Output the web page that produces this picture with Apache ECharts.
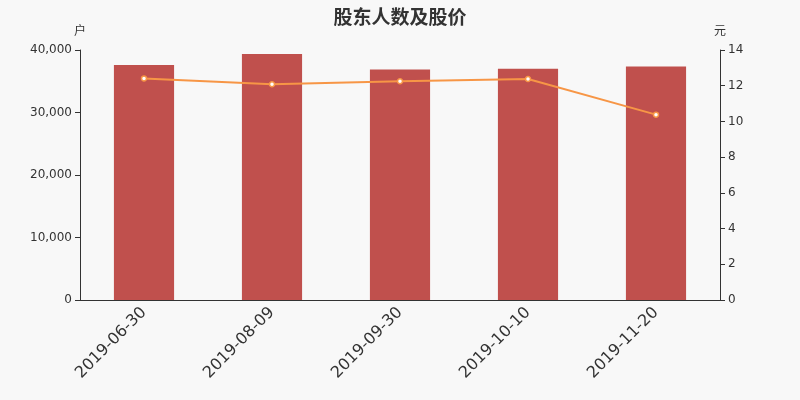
<!DOCTYPE html>
<html>
<head>
<meta charset="utf-8">
<script src="https://cdn.jsdelivr.net/npm/echarts@6/dist/echarts.min.js"></script>
<style>
    html, body { margin: 0; padding: 0; background: #f8f8f8; }
    #main { width: 800px; height: 400px; }
</style>
</head>
<body>
<div id="main"></div>
<script>
// 日期
var dates = ['2019-06-30', '2019-08-09', '2019-09-30', '2019-10-10', '2019-11-20'];
// 股东人数（户）
var holders = [37600, 39360, 36900, 37010, 37350];
// 股价（元）
var prices = [12.41, 12.08, 12.25, 12.38, 10.38];

var myChart = echarts.init(document.getElementById('main'));

var option = {
    backgroundColor: '#f8f8f8',
    textStyle: { fontFamily: 'DejaVu Sans' },
    title: {
        text: '股东人数及股价',
        left: 'center',
        top: 2,
        textStyle: {
            fontSize: 19,
            fontWeight: 'bold',
            color: '#333',
            fontFamily: 'Noto Sans CJK SC'
        }
    },
    grid: {
        left: 80,
        right: 80,
        top: 50,
        bottom: 100
    },
    xAxis: {
        type: 'category',
        data: dates,
        axisLine: { lineStyle: { color: '#333' } },
        axisTick: { alignWithLabel: false },
        axisLabel: {
            rotate: 45,
            fontSize: 16,
            color: '#333',
            margin: 10
        }
    },
    yAxis: [
        {
            type: 'value',
            name: '户',
            min: 0,
            max: 40000,
            interval: 10000,
            nameGap: 14,
            nameTextStyle: { color: '#333', fontFamily: 'Noto Sans CJK SC' },
            axisLine: { show: true, lineStyle: { color: '#333' } },
            axisTick: { show: true },
            splitLine: { show: false },
            axisLabel: { color: '#333', fontSize: 12 }
        },
        {
            type: 'value',
            name: '元',
            min: 0,
            max: 14,
            interval: 2,
            nameGap: 14,
            nameTextStyle: { color: '#333', fontFamily: 'Noto Sans CJK SC' },
            axisLine: { show: true, lineStyle: { color: '#333' } },
            axisTick: { show: true },
            splitLine: { show: false },
            axisLabel: { color: '#333', fontSize: 12 }
        }
    ],
    series: [
        {
            name: '股东人数',
            type: 'bar',
            data: holders,
            barWidth: '47%',
            itemStyle: { color: '#c0504d' }
        },
        {
            name: '股价',
            type: 'line',
            yAxisIndex: 1,
            data: prices,
            symbol: 'circle',
            symbolSize: 5,
            itemStyle: { color: '#fff', borderColor: '#f79646', borderWidth: 1.5 },
            lineStyle: { color: '#f79646', width: 2 }
        }
    ]
};

myChart.setOption(option);
</script>
</body>
</html>
